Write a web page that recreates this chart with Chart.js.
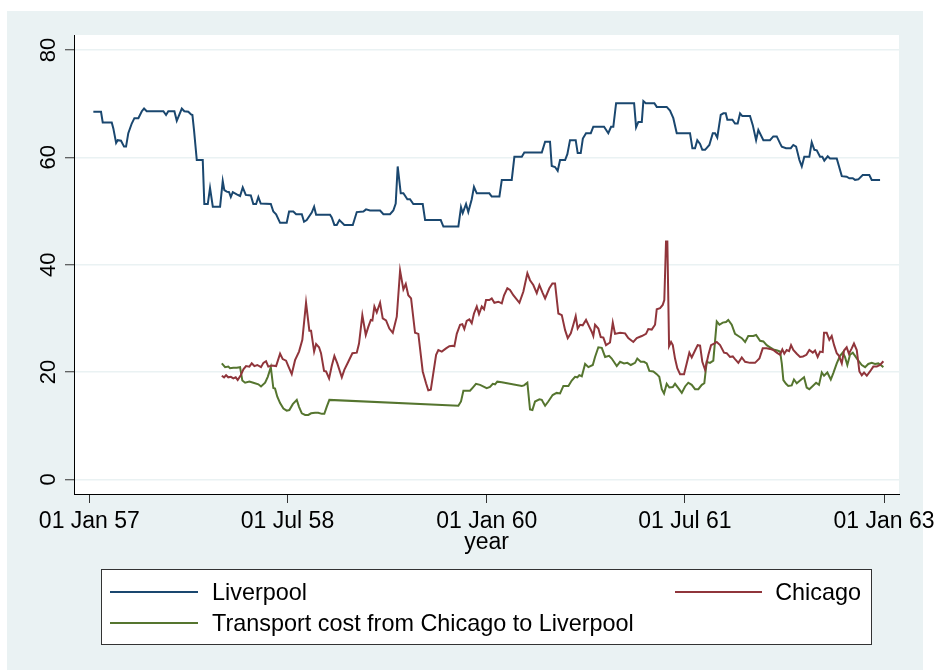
<!DOCTYPE html>
<html>
<head>
<meta charset="utf-8">
<script src="https://cdn.jsdelivr.net/npm/chart.js@4.4.1/dist/chart.umd.min.js"></script>
<style>
  html, body { margin: 0; padding: 0; background: #fff; }
  #wrap { width: 937px; height: 670px; position: relative; }
</style>
</head>
<body>
<div id="wrap"><canvas id="chart"></canvas></div>
<script>
const FONT = "'Liberation Sans', Arial, sans-serif";
const BASE_YEAR = 1957;

/* =====================================================
   DATA  (time = years after 01 Jan 1957)
===================================================== */
const seriesNames = ["Liverpool", "Chicago", "Transport cost from Chicago to Liverpool"];

const livYears = [
  0.030,0.088,0.101,0.169,0.181,0.202,0.214,0.239,0.262,0.277,0.294,0.320,0.340,0.370,0.396,0.413,0.433,0.559,0.579,0.596,
  0.642,0.660,0.698,0.717,0.747,0.768,0.778,0.790,0.811,0.856,0.868,0.894,0.911,0.932,0.987,
  1.007,1.019,1.037,1.055,1.068,1.083,1.113,1.138,1.158,1.181,1.219,1.238,1.259,1.276,1.294,1.370,1.389,1.410,1.440,1.490,
  1.508,1.540,1.561,1.604,1.621,1.641,1.679,1.697,1.712,1.817,1.830,1.850,1.868,1.888,1.925,1.989,
  2.019,2.069,2.089,2.119,2.195,2.220,2.270,2.295,2.313,2.328,2.351,2.371,2.401,2.421,2.446,2.517,2.535,2.653,2.673,2.786,
  2.806,2.819,2.844,2.861,2.887,2.904,2.925,
  3.020,3.038,3.096,3.114,3.189,3.209,3.265,3.284,3.416,3.441,3.478,3.491,3.516,3.536,3.554,3.592,3.609,3.629,3.672,3.687,
  3.710,3.726,3.750,3.786,3.805,3.886,3.918,3.939,3.956,3.977,
  4.113,4.128,4.145,4.171,4.183,4.201,4.266,4.284,4.359,4.384,4.409,4.435,4.535,4.553,4.573,4.590,4.611,4.628,4.649,4.681,
  4.707,4.724,4.741,4.767,4.787,4.805,4.817,4.855,4.875,4.895,4.913,4.930,4.988,
  5.009,5.034,5.051,5.089,5.139,5.164,5.190,5.215,5.228,5.260,5.296,5.315,5.336,5.361,5.379,5.398,5.436,5.454,5.474,5.492,
  5.517,5.534,5.549,5.575,5.592,5.643,5.681,5.718,5.738,5.764,5.781,5.806,5.839,5.889,5.907,5.970
];
const livPrice = [
  68.5,68.5,66.5,66.5,65.4,62.7,63.2,63.1,62.0,62.0,64.5,66.3,67.3,67.3,68.6,69.1,68.6,68.6,67.9,68.6,
  68.6,66.8,69.1,68.6,68.5,68.0,67.9,65.1,59.5,59.5,51.3,51.3,54.3,50.8,50.8,
  55.6,53.9,53.6,53.5,52.6,53.5,53.1,52.8,54.4,53.0,52.9,51.3,51.3,52.6,51.4,51.3,49.9,49.4,47.8,47.8,
  49.9,49.9,49.4,49.4,48.0,48.3,49.7,50.8,49.3,49.3,48.8,47.4,47.4,48.3,47.4,47.4,
  49.8,49.9,50.3,50.1,50.1,49.4,49.4,50.1,51.4,58.3,53.3,53.3,52.2,52.2,51.3,51.3,48.3,48.3,47.1,47.1,
  50.7,49.6,51.3,49.8,52.2,54.5,53.3,
  53.3,52.7,52.7,55.8,55.8,60.1,60.1,60.9,60.9,62.9,62.9,58.4,58.2,57.5,59.5,59.5,60.6,63.2,63.2,60.8,
  60.8,63.5,64.5,64.5,65.7,65.7,64.5,65.7,65.7,70.1,
  70.1,65.6,66.6,66.6,70.5,70.1,70.1,69.4,69.4,68.7,67.3,64.5,64.5,61.7,61.7,63.2,62.5,61.4,61.4,62.3,
  64.5,64.5,63.7,67.9,68.2,68.2,67.0,67.0,66.3,66.3,68.2,67.7,67.7,
  66.0,63.2,65.1,63.2,63.2,63.9,63.9,62.6,62.0,61.7,61.7,62.3,62.0,59.5,58.3,60.1,60.1,62.8,61.4,61.3,
  60.1,60.1,59.4,60.2,59.8,59.8,56.5,56.4,56.1,56.1,55.8,55.9,56.7,56.7,55.8,55.8
];

const chiYears = [
  1.000,1.017,1.032,1.049,1.068,1.087,1.105,1.120,1.143,1.163,1.183,1.208,1.226,1.246,1.268,1.296,1.314,1.334,1.351,1.377,
  1.410,1.440,1.460,1.485,1.502,1.528,1.553,1.583,1.608,1.636,1.661,1.674,1.697,1.712,1.734,1.749,1.772,1.787,1.810,1.830,
  1.850,1.872,1.906,1.925,1.955,1.986,
  2.019,2.036,2.061,2.087,2.106,2.125,2.137,2.152,2.170,2.195,2.215,2.240,2.265,2.291,2.321,2.346,2.371,2.389,2.408,2.429,
  2.459,2.484,2.517,2.542,2.559,2.578,2.597,2.618,2.635,2.661,2.693,2.718,2.744,2.756,2.774,2.799,2.816,2.831,2.849,2.869,
  2.887,2.904,2.925,2.942,2.963,2.980,2.995,
  3.020,3.038,3.058,3.088,3.114,3.131,3.156,3.176,3.201,3.247,3.277,3.307,3.327,3.352,3.378,3.398,3.423,3.441,3.473,3.496,
  3.516,3.541,3.567,3.592,3.612,3.635,3.654,3.672,3.687,3.705,3.725,3.750,3.775,3.793,3.805,3.818,3.843,3.861,3.881,3.901,
  3.931,3.952,3.969,
  4.007,4.045,4.069,4.107,4.133,4.171,4.203,4.220,4.246,4.271,4.284,4.309,4.329,4.341,4.354,4.364,4.377,4.392,4.405,4.422,
  4.439,4.460,4.490,4.510,4.530,4.548,4.573,4.593,4.611,4.628,4.649,4.674,4.694,4.717,4.737,4.762,4.792,4.812,4.837,4.858,
  4.875,4.900,4.926,4.951,4.988,
  5.026,5.059,5.084,5.114,5.139,5.164,5.190,5.215,5.232,5.247,5.265,5.283,5.298,5.315,5.341,5.366,5.388,5.414,5.436,5.462,
  5.479,5.499,5.517,5.537,5.547,5.567,5.587,5.605,5.623,5.643,5.660,5.681,5.698,5.718,5.735,5.756,5.773,5.794,5.814,5.832,
  5.849,5.870,5.894,5.919,5.945,5.970,5.995
];
const chiPrice = [
  19.3,19.0,19.4,19.0,19.1,18.8,19.0,18.5,19.4,20.5,21.1,21.0,21.6,21.1,21.3,20.9,21.7,22.0,21.0,21.2,
  21.1,23.4,22.4,22.1,21.1,19.6,22.2,23.8,26.0,32.9,27.7,27.7,23.8,25.2,24.6,23.5,20.2,20.1,18.8,21.1,
  23.0,21.6,19.0,20.4,21.9,23.5,
  23.6,25.3,30.6,26.9,28.4,29.7,29.6,32.2,31.1,32.9,30.0,29.6,28.1,27.3,30.3,38.9,35.4,36.4,34.3,33.7,
  27.3,27.1,20.1,17.9,16.6,16.7,19.8,23.2,24.1,23.8,24.4,24.8,24.9,24.8,27.1,28.8,28.9,28.0,29.5,29.8,
  29.1,30.9,32.2,30.8,32.2,31.7,33.4,
  33.4,33.7,32.9,33.1,32.8,34.3,35.6,35.3,34.3,32.9,35.0,38.4,37.1,36.2,34.7,36.2,34.7,33.7,35.6,36.5,
  36.5,30.9,30.6,27.8,26.3,27.2,28.8,30.4,28.1,28.8,28.7,29.7,28.4,27.5,26.7,28.8,28.1,26.5,26.4,25.0,
  25.5,29.2,27.1,
  27.3,27.2,26.3,25.6,26.3,26.7,27.1,28.0,27.9,28.8,31.7,31.9,32.5,33.4,44.3,44.3,24.8,25.6,25.0,22.5,
  20.7,19.6,19.6,21.6,23.6,22.7,24.0,25.0,24.9,21.9,20.4,23.2,25.0,25.3,25.6,25.0,23.6,23.5,22.8,22.9,
  22.4,21.7,22.7,21.9,21.7,
  21.7,22.5,24.4,24.4,24.3,24.1,23.6,23.2,24.2,23.4,24.1,23.9,25.0,24.1,23.4,22.8,22.9,23.2,24.1,23.6,
  24.0,22.8,23.8,23.7,27.3,27.3,26.0,26.7,25.0,23.5,23.0,21.6,24.0,24.6,23.4,24.4,25.3,24.1,20.1,19.4,
  19.9,19.3,20.1,21.0,21.0,21.3,22.0
];

const costYears = [
  1.000,1.025,1.049,1.062,1.087,1.113,1.138,1.155,1.176,1.208,1.238,1.276,1.296,1.327,1.347,1.370,1.389,1.402,1.419,1.440,
  1.465,1.490,1.510,1.536,1.566,1.583,1.604,1.629,1.653,1.674,1.704,1.728,1.755,1.774,1.792,1.812,
  2.786,2.806,2.824,2.874,2.895,2.919,2.950,3.000,3.025,3.046,3.063,3.080,3.114,3.265,3.282,3.307,3.327,3.345,3.365,3.398,
  3.416,3.429,3.441,3.465,3.498,3.528,3.554,3.579,3.617,3.642,3.667,3.684,3.699,3.718,3.743,3.768,3.801,3.818,3.843,3.869,
  3.894,3.924,3.944,3.982,
  4.007,4.037,4.062,4.088,4.120,4.137,4.163,4.188,4.208,4.228,4.258,4.284,4.303,4.322,4.339,4.359,4.379,4.405,4.422,4.447,
  4.473,4.498,4.522,4.548,4.573,4.598,4.624,4.643,4.661,4.686,4.711,4.737,4.757,4.782,4.807,4.824,4.850,4.875,4.900,4.926,
  4.951,4.975,
  5.013,5.034,5.064,5.089,5.114,5.139,5.164,5.194,5.215,5.228,5.240,5.260,5.277,5.303,5.320,5.341,5.366,5.396,5.416,5.436,
  5.462,5.487,5.509,5.530,5.547,5.572,5.598,5.617,5.643,5.668,5.688,5.705,5.723,5.743,5.764,5.781,5.806,5.832,5.857,5.881,
  5.907,5.932,5.957,5.975,5.995
];
const costValue = [
  21.6,20.9,21.0,20.7,20.8,20.8,20.9,18.4,18.0,18.2,18.0,17.7,17.3,18.0,19.1,20.9,17.0,16.9,15.4,14.2,
  13.2,12.8,12.9,14.0,14.8,13.5,12.3,12.0,12.0,12.3,12.4,12.4,12.2,12.2,13.5,14.8,
  13.7,14.5,16.5,16.5,17.1,17.8,17.6,17.0,17.2,17.8,17.7,18.2,18.1,17.4,17.5,18.0,13.0,12.9,14.5,14.9,
  14.8,14.2,13.7,14.5,15.7,16.1,16.0,17.4,17.4,18.4,19.1,19.0,19.4,19.2,21.5,20.9,21.3,22.8,24.6,24.5,
  22.8,23.0,22.5,21.1,
  21.9,21.6,21.7,21.3,21.7,22.5,21.9,21.9,21.6,20.2,20.1,19.6,19.1,16.8,16.0,17.8,17.1,17.2,17.8,17.0,
  16.1,17.3,18.0,17.6,16.8,16.8,17.6,17.9,21.9,21.7,22.1,29.4,28.8,29.2,29.3,29.7,28.8,27.1,26.7,26.3,
  25.6,26.7,
  26.7,26.9,25.8,25.7,25.0,24.6,24.2,24.0,23.8,21.6,18.5,17.8,17.4,17.5,18.6,17.9,18.4,19.0,17.1,16.8,
  17.4,18.0,17.6,19.9,19.3,19.9,18.6,19.8,21.6,23.0,23.6,22.8,21.3,23.2,23.6,23.0,22.1,21.3,20.9,21.5,
  21.7,21.5,21.6,21.3,20.9
];

const xTickValues = [0, 1.496, 3, 4.496, 6];
const xTickLabels = ["01 Jan 57", "01 Jul 58", "01 Jan 60", "01 Jul 61", "01 Jan 63"];
const yTickValues = [0, 20, 40, 60, 80];

const seriesColors = ["#1a476f", "#90353b", "#55752f"];


/* =====================================================
   HELPERS
===================================================== */
function toPoints(years, values) {
  return years.map((t, i) => ({ x: BASE_YEAR + t, y: values[i] }));
}


/* =====================================================
   PLUGINS
===================================================== */
const stataFrame = {
  id: "stataFrame",
  beforeDraw(chart) {
    const { ctx, chartArea } = chart;
    ctx.save();
    ctx.fillStyle = "#ffffff";
    ctx.fillRect(0, 0, chart.width, chart.height);
    ctx.fillStyle = "#eaf2f3";
    ctx.fillRect(7, 11, 916, 659);
    ctx.fillStyle = "#ffffff";
    ctx.fillRect(chartArea.left, chartArea.top,
                 chartArea.right - chartArea.left, chartArea.bottom - chartArea.top);
    ctx.restore();
  }
};

const rotatedYLabels = {
  id: "rotatedYLabels",
  afterDraw(chart) {
    const { ctx } = chart;
    const y = chart.scales.y;
    ctx.save();
    ctx.fillStyle = "#000";
    ctx.font = `22px ${FONT}`;
    ctx.textAlign = "center";
    ctx.textBaseline = "alphabetic";
    y.ticks.forEach(t => {
      const py = y.getPixelForValue(t.value);
      ctx.save();
      ctx.translate(y.right - 19, py);
      ctx.rotate(-Math.PI / 2);
      ctx.fillText(String(t.value), 0, 0);
      ctx.restore();
    });
    ctx.restore();
  }
};

const stataLegend = {
  id: "stataLegend",
  afterDraw(chart) {
    const { ctx } = chart;
    ctx.save();
    ctx.fillStyle = "#ffffff";
    ctx.fillRect(101, 569, 771, 76);
    ctx.strokeStyle = "#333";
    ctx.lineWidth = 1;
    ctx.strokeRect(101.5, 569.5, 770, 75);

    const items = [
      { line: [110, 198, 592], text: [212, 600], align: "left" },
      { line: [675, 762, 592], text: [861, 600], align: "right" },
      { line: [110, 198, 623], text: [212, 631], align: "left" }
    ];
    ctx.font = `23.4px ${FONT}`;
    ctx.textBaseline = "alphabetic";
    items.forEach((it, i) => {
      ctx.strokeStyle = seriesColors[i];
      ctx.lineWidth = 2;
      ctx.beginPath();
      ctx.moveTo(it.line[0], it.line[2]);
      ctx.lineTo(it.line[1], it.line[2]);
      ctx.stroke();
      ctx.fillStyle = "#000";
      ctx.textAlign = it.align;
      ctx.fillText(seriesNames[i], it.text[0], it.text[1]);
    });
    ctx.restore();
  }
};


/* =====================================================
   CHART
===================================================== */
const lineStyle = color => ({
  borderColor: color,
  backgroundColor: color,
  borderWidth: 2,
  pointRadius: 0,
  tension: 0,
  fill: false
});

new Chart(document.getElementById("chart"), {
  type: "line",
  data: {
    datasets: [
      { label: seriesNames[0], data: toPoints(livYears, livPrice), ...lineStyle(seriesColors[0]) },
      { label: seriesNames[1], data: toPoints(chiYears, chiPrice), ...lineStyle(seriesColors[1]) },
      { label: seriesNames[2], data: toPoints(costYears, costValue), ...lineStyle(seriesColors[2]) }
    ]
  },
  options: {
    responsive: true,
    maintainAspectRatio: false,
    animation: false,
    layout: { padding: { left: 0, top: 35, right: 38, bottom: 114 } },
    plugins: {
      legend: { display: false },
      tooltip: { enabled: false }
    },
    scales: {
      x: {
        type: "linear",
        min: BASE_YEAR - 0.116,
        max: BASE_YEAR + 6.113,
        afterBuildTicks: s => { s.ticks = xTickValues.map(v => ({ value: BASE_YEAR + v })); },
        afterFit: s => { s.height = 62; s.paddingLeft = 0; s.paddingRight = 0; },
        ticks: {
          autoSkip: false,
          maxRotation: 0,
          minRotation: 0,
          padding: 5,
          color: "#000",
          font: { family: FONT, size: 23 },
          callback: (v, i) => xTickLabels[i]
        },
        grid: {
          drawOnChartArea: false,
          drawTicks: true,
          tickLength: 9,
          tickColor: "#333",
          tickWidth: 1
        },
        border: { display: true, color: "#000", width: 1 },
        title: {
          display: true,
          text: "year",
          color: "#000",
          font: { family: FONT, size: 23 },
          padding: 0
        }
      },
      y: {
        min: -2.74,
        max: 82.8,
        afterBuildTicks: s => { s.ticks = yTickValues.map(v => ({ value: v })); },
        afterFit: s => { s.width = 74; },
        ticks: { display: false },
        grid: {
          color: "#eaf2f3",
          lineWidth: 1.5,
          drawTicks: true,
          tickLength: 9,
          tickColor: "#333",
          tickWidth: 1
        },
        border: { display: true, color: "#000", width: 1 }
      }
    }
  },
  plugins: [stataFrame, rotatedYLabels, stataLegend]
});
</script>
</body>
</html>
